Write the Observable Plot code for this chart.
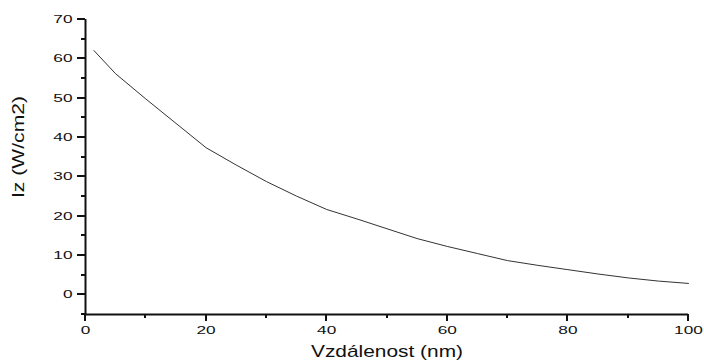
<!DOCTYPE html>
<html>
<head>
<meta charset="utf-8">
<script src="https://cdn.jsdelivr.net/npm/d3@7"></script>
<script src="https://cdn.jsdelivr.net/npm/@observablehq/plot@0.6"></script>
<style>
  html, body { margin: 0; padding: 0; background: #fff; }
  svg { display: block; }
</style>
</head>
<body>
<div id="chart"></div>
<script>
const distance  = [1.4, 5, 10, 15, 20, 25, 30, 35, 40, 45, 50, 55, 60, 65, 70, 75, 80, 85, 90, 95, 100];
const intensity = [62.1, 56.2, 49.8, 43.6, 37.4, 33.0, 28.8, 25.1, 21.7, 19.3, 16.8, 14.3, 12.3, 10.5, 8.7, 7.5, 6.4, 5.3, 4.3, 3.5, 2.9];
const xMajor = [0, 20, 40, 60, 80, 100];
const xMinor = [10, 30, 50, 70, 90];
const yMajor = [0, 10, 20, 30, 40, 50, 60, 70];
const yMinor = [-5, 5, 15, 25, 35, 45, 55, 65];
const xTitle = "Vzdálenost (nm)";
const yTitle = "Iz (W/cm2)";

const data = distance.map((d, i) => ({x: d, y: intensity[i]}));

const chart = Plot.plot({
  width: 704,
  height: 361,
  marginTop: 19,
  marginBottom: 47,
  marginLeft: 85,
  marginRight: 16,
  style: {fontFamily: "'Liberation Sans', Arial, sans-serif", fontSize: "10.5px", color: "#111", background: "#fff", overflow: "visible"},
  x: {domain: [0, 100]},
  y: {domain: [-5, 70]},
  marks: [
    Plot.axisX({ticks: xMajor, tickSize: 0, tickPadding: 12, label: null, fill: "#111"}),
    Plot.axisY({ticks: yMajor, tickSize: 0, tickPadding: 13, label: null, fill: "#111"}),
    Plot.ruleY([-5], {x1: 0, x2: 100, stroke: "#111", strokeWidth: 2}),
    Plot.ruleX([0], {y1: -5, y2: 70, stroke: "#111", strokeWidth: 2}),
    Plot.line(data, {x: "x", y: "y", stroke: "#333", strokeWidth: 1}),
    Plot.text([xTitle], {frameAnchor: "bottom", textAnchor: "middle", lineAnchor: "middle", dy: 37, fontSize: 17, fill: "#111"}),
    Plot.text([yTitle], {frameAnchor: "left", textAnchor: "middle", lineAnchor: "middle", rotate: -90, dx: -67, dy: -20, fontSize: 17, fill: "#111"})
  ]
});

document.getElementById("chart").appendChild(chart);

const svg = d3.select(chart);
// tick marks placed with Plot's own scales
const sx = chart.scale("x"), sy = chart.scale("y");
const x0 = sx.apply(0), yb = sy.apply(-5);
const ticks = svg.append("g").attr("stroke", "#111").attr("stroke-width", 2).attr("shape-rendering", "crispEdges");
const addTick = (x1, y1, x2, y2) => ticks.append("line").attr("x1", x1).attr("y1", y1).attr("x2", x2).attr("y2", y2);
yMajor.forEach(v => addTick(x0 - 8, sy.apply(v), x0, sy.apply(v)));
yMinor.forEach(v => addTick(x0 - 4, sy.apply(v), x0, sy.apply(v)));
xMajor.forEach(v => addTick(sx.apply(v), yb, sx.apply(v), yb + 7));
xMinor.forEach(v => addTick(sx.apply(v), yb, sx.apply(v), yb + 4));

svg.selectAll('g[aria-label="x-axis tick label"] text, g[aria-label="y-axis tick label"] text').each(function() {
  const t = this.textContent;
  if (t && t.length) {
    d3.select(this).attr("textLength", 9.6 * t.length).attr("lengthAdjust", "spacingAndGlyphs");
  }
});
svg.selectAll('g[aria-label="text"] text').each(function() {
  const t = this.textContent;
  if (t === xTitle) d3.select(this).attr("textLength", 152).attr("lengthAdjust", "spacingAndGlyphs");
  if (t === yTitle) d3.select(this).attr("textLength", 102).attr("lengthAdjust", "spacingAndGlyphs");
});
</script>
</body>
</html>
